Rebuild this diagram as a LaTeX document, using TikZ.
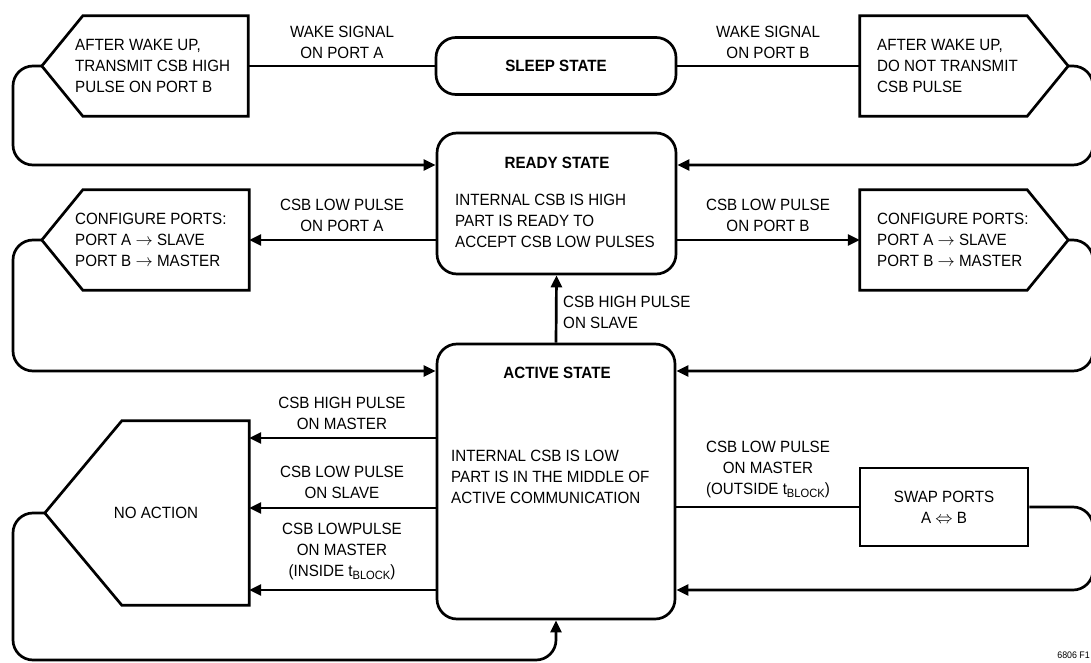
\documentclass[tikz,border=0pt]{standalone}
\usepackage{fontspec}
\setmainfont{Liberation Sans}[FakeStretch=0.93]
\usetikzlibrary{arrows.meta,calc}
\newcommand\tblk{t\raisebox{-3pt}{\fontsize{12}{12}\selectfont BLOCK}}
\begin{document}
\begin{tikzpicture}[x=1pt,y=-1pt,
  every node/.style={font=\fontsize{16.3}{21}\selectfont, inner sep=0pt},
  ln/.style={line width=2.7pt},
  arr/.style={ln,-{Triangle[length=12pt,width=11pt]}},
  looparr/.style={arr, rounded corners=20pt},
  statebox/.style={draw, line width=2.7pt, rounded corners=20pt},
  shp/.style={ln, line join=miter},
  ttl/.style={font=\fontsize{16.3}{21}\selectfont\bfseries},
  lbl/.style={align=center},
  txt/.style={align=left, anchor=west}]
\useasboundingbox (0,0) rectangle (1091,663);

% states
\node[statebox, ttl, minimum width=240pt, minimum height=57pt] (sleep) at (556,66) {SLEEP STATE};
\node[statebox, minimum width=239pt, minimum height=141pt] (ready) at (556.5,203.5) {};
\node[ttl] (readyt) at (557,163) {READY STATE};
\node[txt] (readyb) at (455,221) {INTERNAL CSB IS HIGH\\PART IS READY TO\\ACCEPT CSB LOW PULSES};
\node[statebox, minimum width=238pt, minimum height=275pt] (active) at (556,481.5) {};
\node[ttl] (activet) at (557,373) {ACTIVE STATE};
\node[txt] (activeb) at (451,476.5) {INTERNAL CSB IS LOW\\PART IS IN THE MIDDLE OF\\ACTIVE COMMUNICATION};

% action shapes
\node[minimum width=206pt, minimum height=100pt] (pa) at (145,66) {};
\draw[shp] (pa.west) -- ($(pa.north west)+(41,0)$) -- (pa.north east) -- (pa.south east) -- ($(pa.south west)+(41,0)$) -- cycle;
\node[txt] (pat) at (75,66) {AFTER WAKE UP,\\TRANSMIT CSB HIGH\\PULSE ON PORT B};

\node[minimum width=208pt, minimum height=100pt] (pb) at (964,66) {};
\draw[shp] (pb.north west) -- ($(pb.north east)+(-41,0)$) -- (pb.east) -- ($(pb.south east)+(-41,0)$) -- (pb.south west) -- cycle;
\node[txt] (pbt) at (877,66) {AFTER WAKE UP,\\DO NOT TRANSMIT\\CSB PULSE};

\node[minimum width=207pt, minimum height=100pt] (pc) at (145.5,240) {};
\draw[shp] (pc.west) -- ($(pc.north west)+(41,0)$) -- (pc.north east) -- (pc.south east) -- ($(pc.south west)+(41,0)$) -- cycle;
\node[txt] (pct) at (75,240) {CONFIGURE PORTS:\\PORT A $\rightarrow$ SLAVE\\PORT B $\rightarrow$ MASTER};

\node[minimum width=208pt, minimum height=100pt] (pd) at (964,240) {};
\draw[shp] (pd.north west) -- ($(pd.north east)+(-41,0)$) -- (pd.east) -- ($(pd.south east)+(-41,0)$) -- (pd.south west) -- cycle;
\node[txt] (pdt) at (877,240) {CONFIGURE PORTS:\\PORT A $\rightarrow$ SLAVE\\PORT B $\rightarrow$ MASTER};

\node[minimum width=204pt, minimum height=184pt] (pe) at (147,513) {};
\draw[shp] (pe.west) -- ($(pe.north west)+(77,0)$) -- (pe.north east) -- (pe.south east) -- ($(pe.south west)+(77,0)$) -- cycle;
\node (pet) at (156,513) {NO ACTION};

\node[draw, ln, lbl, minimum width=168pt, minimum height=78pt] (swap) at (944,507) {SWAP PORTS\\A $\Leftrightarrow$ B};

% connectors
\draw[ln] (pa.east) -- (pa.east -| sleep.west);
\draw[ln] (sleep.east |- pb.west) -- (pb.west);
\draw[looparr] (pa.west) -- (13,66) -- (13,165) -- (ready.west |- 0,165);
\draw[looparr] (pb.east) -- (1093,66) -- (1093,165) -- (ready.east |- 0,165);
\draw[arr] (ready.west |- pc.east) -- (pc.east);
\draw[arr] (ready.east |- pd.west) -- (pd.west);
\draw[looparr] (pc.west) -- (13,240) -- (13,371) -- (active.west |- 0,371);
\draw[looparr] (pd.east) -- (1093,240) -- (1093,371) -- (active.east |- 0,371);
\draw[arr] (active.north) -- (ready.south);
\draw[arr] (active.west |- 0,438) -- (pe.east |- 0,438);
\draw[arr] (active.west |- 0,508) -- (pe.east |- 0,508);
\draw[arr] (active.west |- 0,590) -- (pe.east |- 0,590);
\draw[ln] (active.east |- swap.west) -- (swap.west);
\draw[looparr] (swap.east) -- (1093,507) -- (1093,590) -- (active.east |- 0,590);
\draw[looparr] (pe.west) -- (13,513) -- (13,660) -- (active.south |- 0,660) -- (active.south);

% labels
\node[lbl] (l1) at (342,42) {WAKE SIGNAL\\ON PORT A};
\node[lbl] (l2) at (768,42) {WAKE SIGNAL\\ON PORT B};
\node[lbl] (l3) at (342,215) {CSB LOW PULSE\\ON PORT A};
\node[lbl] (l4) at (768,215) {CSB LOW PULSE\\ON PORT B};
\node[txt] (l5) at (563,312.5) {CSB HIGH PULSE\\ON SLAVE};
\node[lbl] (l6) at (342,413) {CSB HIGH PULSE\\ON MASTER};
\node[lbl] (l7) at (342,482.5) {CSB LOW PULSE\\ON SLAVE};
\node[lbl] (l8) at (342,551) {CSB LOWPULSE\\ON MASTER\\(INSIDE \tblk)};
\node[lbl] (l9) at (768,469) {CSB LOW PULSE\\ON MASTER\\(OUTSIDE \tblk)};
\node[font=\fontsize{9.5}{11}\selectfont, anchor=east] (fig) at (1090,655) {6806 F1};
\end{tikzpicture}
\end{document}
